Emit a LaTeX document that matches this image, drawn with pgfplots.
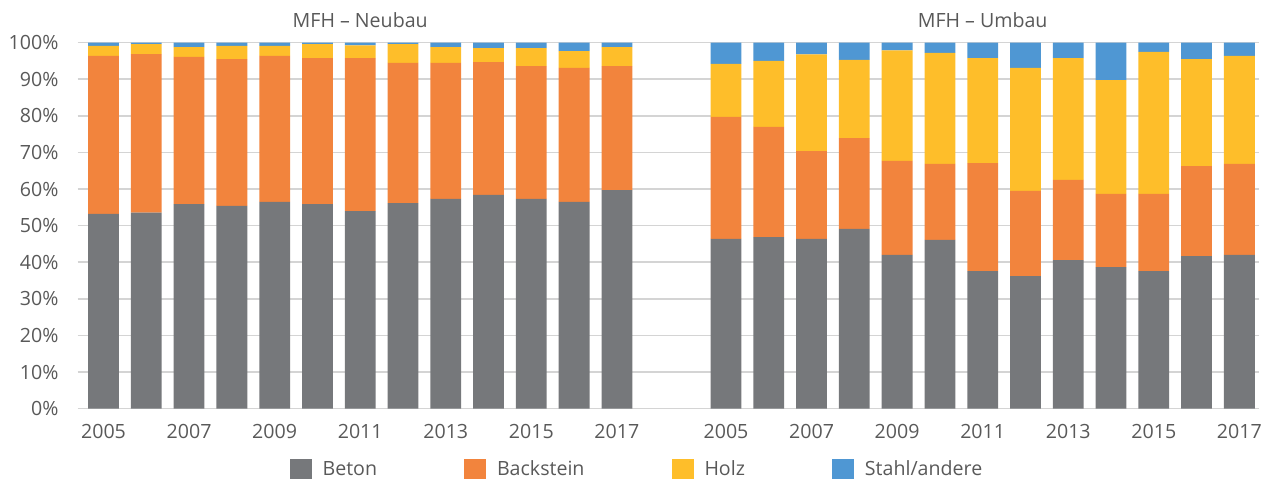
\documentclass[border=0pt]{standalone}
\usepackage{fontspec}
\setmainfont{Open Sans}
\usepackage{pgfplots}
\usepackage{pgfplotstable}
\pgfplotsset{compat=1.18}
\definecolor{beton}{HTML}{76787B}
\definecolor{back}{HTML}{F2843D}
\definecolor{holz}{HTML}{FEBE2A}
\definecolor{stahl}{HTML}{4F97D3}
\definecolor{txt}{HTML}{595959}
\definecolor{gridc}{HTML}{D4D4D4}
\newcommand{\fs}{\fontsize{19.6pt}{23pt}\selectfont\color{txt}}

% x: Neubau 0..12, Umbau 14.55..26.55
\pgfplotstableread{
x     beton back holz stahl
0     53.2  43.2 2.7  0.9
1     53.6  43.3 2.7  0.4
2     55.9  40.2 2.7  1.2
3     55.4  40.1 3.6  0.9
4     56.5  39.9 2.7  0.9
5     55.9  39.9 3.8  0.4
6     54.0  41.8 3.5  0.7
7     56.2  38.3 5.1  0.4
8     57.3  37.2 4.3  1.2
9     58.4  36.3 3.8  1.5
10    57.3  36.3 4.9  1.5
11    56.5  36.6 4.6  2.3
12    59.7  33.9 5.2  1.2
14.55 46.4  33.3 14.5 5.8
15.55 46.9  30.1 18.0 5.0
16.55 46.4  24.0 26.4 3.2
17.55 49.1  24.8 21.4 4.7
18.55 42.0  25.7 30.2 2.1
19.55 46.1  20.8 30.3 2.8
20.55 37.6  29.5 28.7 4.2
21.55 36.2  23.3 33.6 6.9
22.55 40.6  21.9 33.3 4.2
23.55 38.7  20.0 31.1 10.2
24.55 37.6  21.1 38.8 2.5
25.55 41.7  24.6 29.2 4.5
26.55 42.0  24.9 29.5 3.6
}\data

\begin{document}
\begin{tikzpicture}
\useasboundingbox (0,0) rectangle (1269pt,481pt);
\begin{axis}[
  at={(77.6pt,72.3pt)}, anchor=south west,
  scale only axis, width=1181pt, height=366pt,
  ybar stacked, bar width=30.8pt,
  xmin=-0.606, xmax=27.0, ymin=0, ymax=100,
  axis line style={draw=none},
  major tick length=0pt,
  ytick={0,10,...,100},
  yticklabel={\pgfmathprintnumber{\tick}\%},
  xtick={0,2,4,6,8,10,12,14.55,16.55,18.55,20.55,22.55,24.55,26.55},
  xticklabels={2005,2007,2009,2011,2013,2015,2017,2005,2007,2009,2011,2013,2015,2017},
  /pgf/number format/assume math mode=true,
  ymajorgrids, grid style={gridc, line width=1.6pt},
  yticklabel style={font=\fs, inner sep=0pt, anchor=east, xshift=-19pt},
  xticklabel style={font=\fs, inner sep=0pt, anchor=north, yshift=-15.6pt},
  clip=false,
  legend columns=4,
  legend style={draw=none, fill=none, inner sep=0pt, font=\fs,
    at={(0.1793,-0.1648)}, anchor=west,
    nodes={inner sep=0pt},
    /tikz/every odd column/.append style={column sep=11pt},
    /tikz/every even column/.append style={column sep=87pt}},
]
\addplot[fill=beton, draw=none, legend image code/.code={\fill[beton] (0pt,-10pt) rectangle (22pt,10pt);}] table[x=x, y=beton] {\data};
\addlegendentry{Beton}
\addplot[fill=back, draw=none, legend image code/.code={\fill[back] (0pt,-10pt) rectangle (22pt,10pt);}] table[x=x, y=back] {\data};
\addlegendentry{Backstein}
\addplot[fill=holz, draw=none, legend image code/.code={\fill[holz] (0pt,-10pt) rectangle (22pt,10pt);}] table[x=x, y=holz] {\data};
\addlegendentry{Holz}
\addplot[fill=stahl, draw=none, legend image code/.code={\fill[stahl] (0pt,-10pt) rectangle (22pt,10pt);}] table[x=x, y=stahl] {\data};
\addlegendentry{Stahl/andere}
\node[font=\fs, anchor=center] at (axis cs:6,106.2) {MFH – Neubau};
\node[font=\fs, anchor=center] at (axis cs:20.55,106.2) {MFH – Umbau};
\end{axis}
\end{tikzpicture}
\end{document}
